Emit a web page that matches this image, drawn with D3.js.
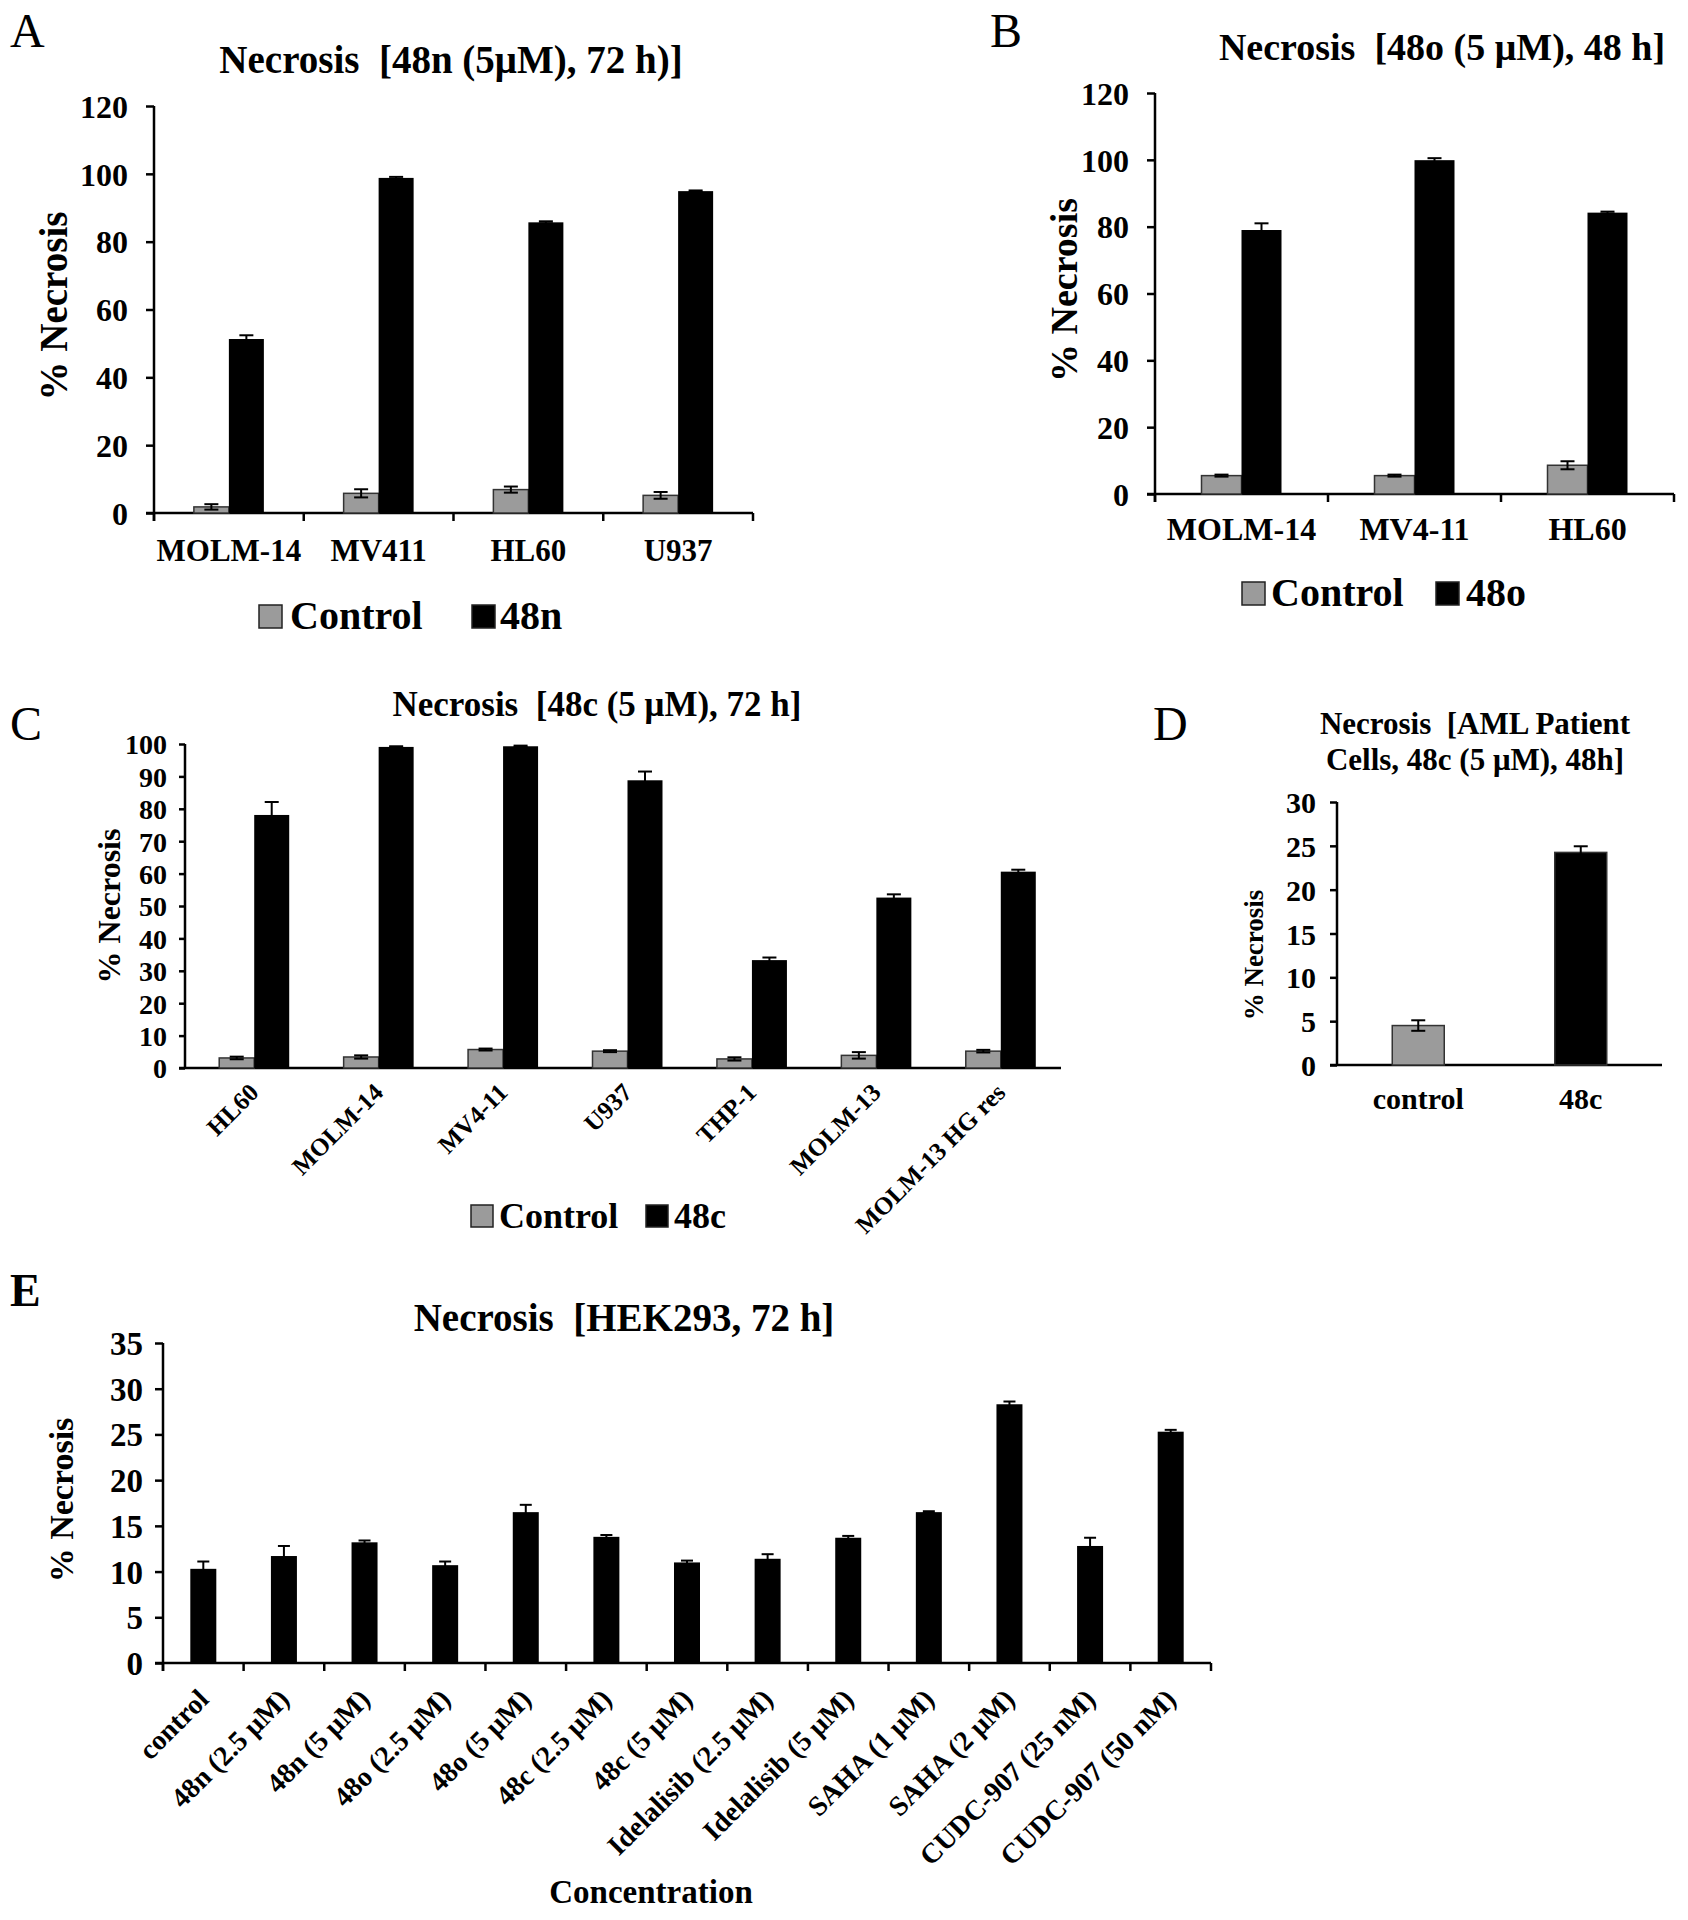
<!DOCTYPE html>
<html><head><meta charset="utf-8">
<script src="https://cdn.jsdelivr.net/npm/d3@7"></script>
<style>
body{margin:0;background:#fff;}
svg text{font-family:"Liberation Serif","Times New Roman",serif;fill:#000;}
</style></head>
<body>
<svg id="fig" width="1688" height="1920"></svg>
<script>
// ---------- DATA ----------
const catsA = ["MOLM-14","MV411","HL60","U937"];
const ctrlA = [1.8, 5.8, 6.9, 5.2];
const ctrlErrA = [0.8, 1.2, 0.9, 1.0];
const trtA = [51.3, 98.8, 85.7, 94.9];
const trtErrA = [1.1, 0.3, 0.3, 0.2];
const ticksA = [0,20,40,60,80,100,120];

const catsB = ["MOLM-14","MV4-11","HL60"];
const ctrlB = [5.5, 5.5, 8.6];
const ctrlErrB = [0.3, 0.3, 1.2];
const trtB = [79.0, 99.9, 84.2];
const trtErrB = [2.0, 0.6, 0.3];
const ticksB = [0,20,40,60,80,100,120];

const catsC = ["HL60","MOLM-14","MV4-11","U937","THP-1","MOLM-13","MOLM-13 HG res"];
const ctrlC = [3.1, 3.4, 5.7, 5.2, 2.8, 3.9, 5.2];
const ctrlErrC = [0.4, 0.5, 0.3, 0.3, 0.5, 1.0, 0.4];
const trtC = [78.1, 99.1, 99.3, 88.8, 33.3, 52.6, 60.6];
const trtErrC = [4.0, 0.2, 0.2, 2.7, 0.8, 1.0, 0.6];
const ticksC = [0,10,20,30,40,50,60,70,80,90,100];

const catsD = ["control","48c"];
const valsD = [4.5, 24.25];
const errD = [0.6, 0.7];
const ticksD = [0,5,10,15,20,25,30];

const catsE = ["control","48n (2.5 \u03bcM)","48n (5 \u03bcM)","48o (2.5 \u03bcM)","48o (5 \u03bcM)","48c (2.5 \u03bcM)","48c (5 \u03bcM)","Idelalisib (2.5 \u03bcM)","Idelalisib (5 \u03bcM)","SAHA (1 \u03bcM)","SAHA (2 \u03bcM)","CUDC-907 (25 nM)","CUDC-907 (50 nM)"];
const valsE = [10.3, 11.7, 13.2, 10.7, 16.5, 13.8, 11.0, 11.4, 13.7, 16.5, 28.3, 12.8, 25.3];
const errE = [0.8, 1.1, 0.2, 0.4, 0.8, 0.2, 0.2, 0.5, 0.2, 0.1, 0.3, 0.9, 0.2];
const ticksE = [0,5,10,15,20,25,30,35];

// ---------- DRAW ----------
const svg = d3.select("#fig");
const GRAY = "#9b9b9b";
const NB = "\u00a0";

function txt(g, s, x, y, size, opts={}) {
  const sx = opts.sx || 1;
  const t = g.append("text")
    .attr("transform", `translate(${x},${y}) rotate(${opts.rot||0}) scale(${sx},1)`)
    .attr("font-size", size)
    .attr("text-anchor", opts.anchor || "middle")
    .style("font-weight", opts.normal ? "normal" : "bold")
    .text(s);
  if (opts.italic) t.style("font-style","italic");
  return t;
}

function panel(o) {
  const g = svg.append("g");
  const y = d3.scaleLinear().domain([0, o.ymax]).range([o.y0, o.y1]);
  const x = d3.scaleBand().domain(o.cats).range([o.bx0 ?? o.x0, o.bx1 ?? o.x1]);
  // y axis
  const ya = g.append("g").attr("transform", `translate(${o.x0},0)`)
    .call(d3.axisLeft(y).tickValues(o.ticks).tickSize(o.tickLen).tickPadding(o.tickPad).tickFormat(d3.format("d")));
  ya.select(".domain").remove();
  ya.selectAll(".tick line").attr("stroke","#000").attr("stroke-width",o.sw);
  ya.selectAll(".tick text").attr("font-size",o.tickFont).attr("font-family",null)
    .style("font-weight","bold").attr("dy","0.35em");
  g.append("line").attr("x1",o.x0).attr("x2",o.x0).attr("y1",y(0)+(o.xticks?o.tickLen:0)).attr("y2",y(o.ymax))
    .attr("stroke","#000").attr("stroke-width",o.sw);
  // x axis
  g.append("line").attr("x1",o.x0-o.tickLen).attr("x2",o.x1).attr("y1",y(0)).attr("y2",y(0))
    .attr("stroke","#000").attr("stroke-width",o.sw);
  if (o.xticks) {
    const bounds = o.cats.map(c => x(c)).concat([o.x1]);
    g.selectAll(".xt").data(bounds).enter().append("line")
      .attr("x1",d=>d).attr("x2",d=>d).attr("y1",y(0)).attr("y2",y(0)+o.tickLen)
      .attr("stroke","#000").attr("stroke-width",o.sw);
  }
  // bars
  o.series.forEach(s => {
    const bw = o.barW;
    const bx = i => x(o.cats[i]) + x.bandwidth()/2 + s.off*bw;
    const col = i => Array.isArray(s.color) ? s.color[i] : s.color;
    g.selectAll(null).data(s.vals).enter().append("rect")
      .attr("x",(d,i)=> bx(i))
      .attr("y",d=>y(d)).attr("width",bw).attr("height",d=>y(0)-y(d))
      .attr("fill",(d,i)=>col(i))
      .attr("stroke",(d,i)=> (s.stroke || col(i)==GRAY) ? "#333" : "none")
      .attr("stroke-width",1.5);
    const cx = i => bx(i) + bw/2;
    const eg = g.append("g").attr("stroke","#000").attr("stroke-width",2);
    s.vals.forEach((v,i)=>{
      const e = s.err[i];
      eg.append("line").attr("x1",cx(i)).attr("x2",cx(i)).attr("y1",y(v-e)).attr("y2",y(v+e));
      eg.append("line").attr("x1",cx(i)-o.cap).attr("x2",cx(i)+o.cap).attr("y1",y(v+e)).attr("y2",y(v+e));
      eg.append("line").attr("x1",cx(i)-o.cap).attr("x2",cx(i)+o.cap).attr("y1",y(v-e)).attr("y2",y(v-e));
    });
  });
  // category labels
  o.cats.forEach(c => {
    const cx = x(c) + x.bandwidth()/2;
    if (o.rotLabels) {
      txt(g, c, cx + o.lblDx, y(0) + o.lblDy, o.catFont, {rot:-45, anchor:"end"});
    } else {
      txt(g, c, cx, o.catY, o.catFont);
    }
  });
  // y label
  txt(g, "% Necrosis", o.ylX, o.ylY, o.ylFont, {rot:-90});
  return {g, x, y};
}

function legend(items, baseY, font, sq) {
  items.forEach(it => {
    svg.append("rect").attr("x",it.sqX).attr("y",baseY - sq - 1).attr("width",sq).attr("height",sq)
      .attr("fill",it.color).attr("stroke","#222").attr("stroke-width",1.5);
    txt(svg, it.label, it.tx, baseY, font, {anchor:"start"});
  });
}

// Panel A
txt(svg, "A", 10, 47, 48, {anchor:"start", normal:true});
txt(svg, "Necrosis" + NB + " [48n (5\u03bcM), 72 h)]", 451, 73, 39);
panel({cats:catsA, ymax:120, ticks:ticksA, x0:154, x1:753, y0:513, y1:106,
  tickLen:8, tickPad:18, tickFont:32, sw:2.5, xticks:true, barW:35, cap:7,
  series:[{vals:ctrlA, err:ctrlErrA, color:GRAY, off:-1},
          {vals:trtA, err:trtErrA, color:"#000", off:0}],
  catY:561, catFont:31, ylX:67, ylY:306, ylFont:39});
legend([{sqX:259, tx:290, color:GRAY, label:"Control"},{sqX:472, tx:500, color:"#000", label:"48n"}], 629, 40, 23);

// Panel B
txt(svg, "B", 990, 47, 48, {anchor:"start", normal:true});
txt(svg, "Necrosis" + NB + " [48o (5 \u03bcM), 48 h]", 1442, 60, 38);
panel({cats:catsB, ymax:120, ticks:ticksB, x0:1155, x1:1674, y0:494, y1:93,
  tickLen:8, tickPad:18, tickFont:32, sw:2.5, xticks:true, barW:40, cap:7,
  series:[{vals:ctrlB, err:ctrlErrB, color:GRAY, off:-1},
          {vals:trtB, err:trtErrB, color:"#000", off:0}],
  catY:540, catFont:32, ylX:1077, ylY:290, ylFont:38});
legend([{sqX:1242, tx:1271, color:GRAY, label:"Control"},{sqX:1436, tx:1466, color:"#000", label:"48o"}], 606, 40, 23);

// Panel C
txt(svg, "C", 10, 740, 48, {anchor:"start", normal:true});
txt(svg, "Necrosis" + NB + " [48c (5 \u03bcM), 72 h]", 597, 716, 35);
panel({cats:catsC, ymax:100, ticks:ticksC, x0:185, x1:1061, bx0:192, bx1:1063, y0:1068, y1:744,
  tickLen:6, tickPad:12, tickFont:28, sw:2.5, xticks:false, barW:35, cap:7,
  series:[{vals:ctrlC, err:ctrlErrC, color:GRAY, off:-1},
          {vals:trtC, err:trtErrC, color:"#000", off:0}],
  rotLabels:true, lblDx:6, lblDy:26, catFont:25, ylX:120, ylY:906, ylFont:32});
legend([{sqX:471, tx:499, color:GRAY, label:"Control"},{sqX:646, tx:674, color:"#000", label:"48c"}], 1228, 36, 22);

// Panel D
txt(svg, "D", 1153, 740, 48, {anchor:"start", normal:true});
txt(svg, "Necrosis" + NB + " [AML Patient", 1475, 734, 31);
txt(svg, "Cells, 48c (5 \u03bcM), 48h]", 1475, 770, 31);
panel({cats:catsD, ymax:30, ticks:ticksD, x0:1337, x1:1662, y0:1065, y1:802,
  tickLen:7, tickPad:14, tickFont:30, sw:2.5, xticks:false, barW:52, cap:7,
  series:[{vals:valsD, err:errD, color:[GRAY,"#000"], stroke:true, off:-0.5}],
  catY:1109, catFont:30, ylX:1263, ylY:955, ylFont:27});

// Panel E
txt(svg, "E", 10, 1306, 46, {anchor:"start"});
txt(svg, "Necrosis" + NB + " [HEK293, 72 h]", 624, 1331, 39);
panel({cats:catsE, ymax:35, ticks:ticksE, x0:163, x1:1211, y0:1663, y1:1343,
  tickLen:8, tickPad:12, tickFont:33, sw:2.5, xticks:true, barW:26, cap:6,
  series:[{vals:valsE, err:errE, color:"#000", off:-0.5}],
  rotLabels:true, lblDx:7, lblDy:38, catFont:28, ylX:73, ylY:1500, ylFont:34});
txt(svg, "Concentration", 651, 1903, 33);
</script>
</body></html>
